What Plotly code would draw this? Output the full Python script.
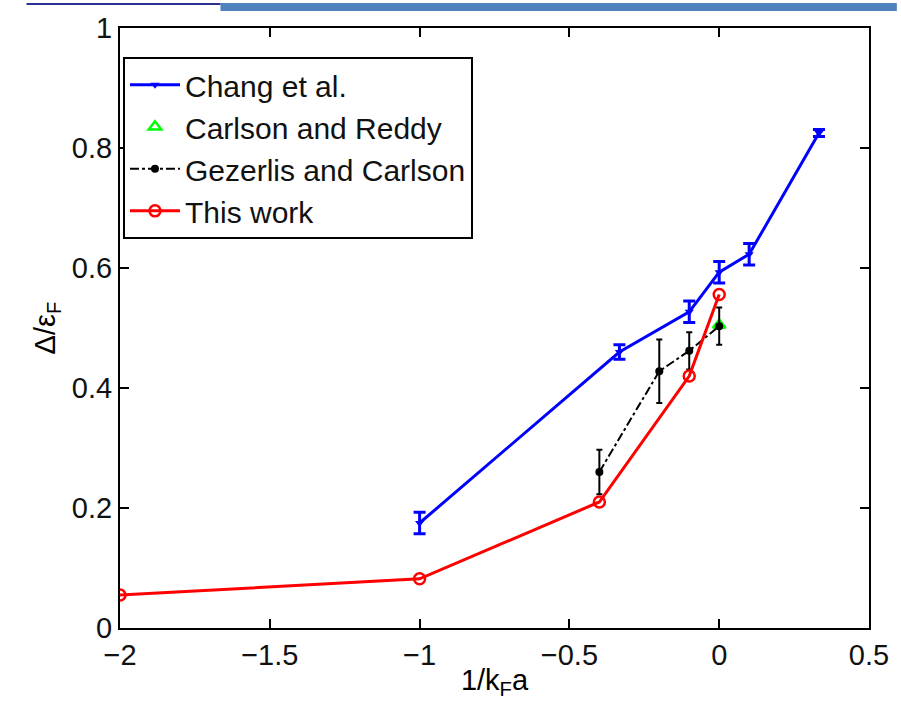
import plotly.graph_objects as go

# ---- data ----
chang_x = [-1.0, -0.333, -0.1, 0.0, 0.1, 0.333]
chang_y = [0.175, 0.46, 0.527, 0.593, 0.623, 0.825]
chang_err = [0.018, 0.012, 0.018, 0.018, 0.018, 0.006]

carlson_x = [0.0]
carlson_y = [0.505]

gez_x = [-0.4, -0.2, -0.1, 0.0]
gez_y = [0.26, 0.428, 0.462, 0.503]
gez_err = [0.037, 0.053, 0.031, 0.031]

this_x = [-2.0, -1.0, -0.4, -0.1, 0.0]
this_y = [0.055, 0.082, 0.21, 0.42, 0.556]

x_ticks = [-2, -1.5, -1, -0.5, 0, 0.5]
y_ticks = [0, 0.2, 0.4, 0.6, 0.8, 1]

FONT = "Liberation Sans, Arial, sans-serif"
W, H = 901, 704
ML, MR, MT, MB = 120, 28, 25, 76

fig = go.Figure()
fig.add_trace(go.Scatter(
    x=chang_x, y=chang_y, name="Chang et al.", mode="lines+markers",
    line=dict(color="#0000FF", width=3),
    marker=dict(symbol="triangle-down", size=8, color="#0000FF"),
    error_y=dict(type="data", array=chang_err, color="#0000FF", thickness=3, width=6),
))
fig.add_trace(go.Scatter(
    x=carlson_x, y=carlson_y, name="Carlson and Reddy", mode="markers",
    marker=dict(symbol="triangle-up-open", size=11, color="#00FF00", line=dict(width=2.5, color="#00FF00")),
))
fig.add_trace(go.Scatter(
    x=gez_x, y=gez_y, name="Gezerlis and Carlson", mode="lines+markers",
    line=dict(color="black", width=2, dash="dashdot"),
    marker=dict(symbol="circle", size=8, color="black"),
    error_y=dict(type="data", array=gez_err, color="black", thickness=2, width=3),
))
fig.add_trace(go.Scatter(
    x=this_x, y=this_y, name="This work", mode="lines+markers",
    line=dict(color="#FF0000", width=3),
    marker=dict(symbol="circle-open", size=11, color="#FF0000", line=dict(width=2.5, color="#FF0000")),
))

ph = H - MT - MB
pw = W - ML - MR
def px2paper_x(px):
    return (px - ML) / pw
def py2paper_y(py):
    return 1 - (py - MT) / ph

shapes = [
    dict(type="rect", xref="paper", yref="paper",
         x0=px2paper_x(221), x1=px2paper_x(901), y0=py2paper_y(8), y1=py2paper_y(0),
         fillcolor="#4F81BD", line=dict(width=0), layer="above"),
    dict(type="rect", xref="paper", yref="paper",
         x0=px2paper_x(26), x1=px2paper_x(221), y0=py2paper_y(2), y1=py2paper_y(0),
         fillcolor="#2E3192", line=dict(width=0), layer="above"),
]

axis_common = dict(
    showline=True, linecolor="black", linewidth=2, mirror="ticks",
    ticks="inside", ticklen=9, tickwidth=2, tickcolor="black",
    showgrid=False, zeroline=False,
    tickfont=dict(family=FONT, size=29, color="#111111"),
)

fig.update_layout(
    width=W, height=H,
    margin=dict(l=ML, r=MR, t=MT, b=MB),
    paper_bgcolor="white", plot_bgcolor="white",
    font=dict(family=FONT, color="black"),
    showlegend=True,
    legend=dict(
        x=px2paper_x(123), y=py2paper_y(54), xanchor="left", yanchor="top",
        bgcolor="white", bordercolor="black", borderwidth=2,
        font=dict(family=FONT, size=30, color="#111111"),
        itemwidth=50, tracegroupgap=0,
    ),
    xaxis=dict(range=[-2, 0.5], tickvals=x_ticks, ticktext=["\u22122", "\u22121.5", "\u22121", "\u22120.5", "0", "0.5"],
               title=dict(text="1/k<sub>F</sub>a", font=dict(family=FONT, size=29), standoff=0),
               **axis_common),
    yaxis=dict(range=[0, 1], tickvals=y_ticks, ticktext=["0", "0.2", "0.4", "0.6", "0.8", "1"],
               title=dict(text="\u0394/\u03b5<sub>F</sub>", font=dict(family=FONT, size=29), standoff=8),
               **axis_common),
    shapes=shapes,
)

fig.write_html("out.html")
